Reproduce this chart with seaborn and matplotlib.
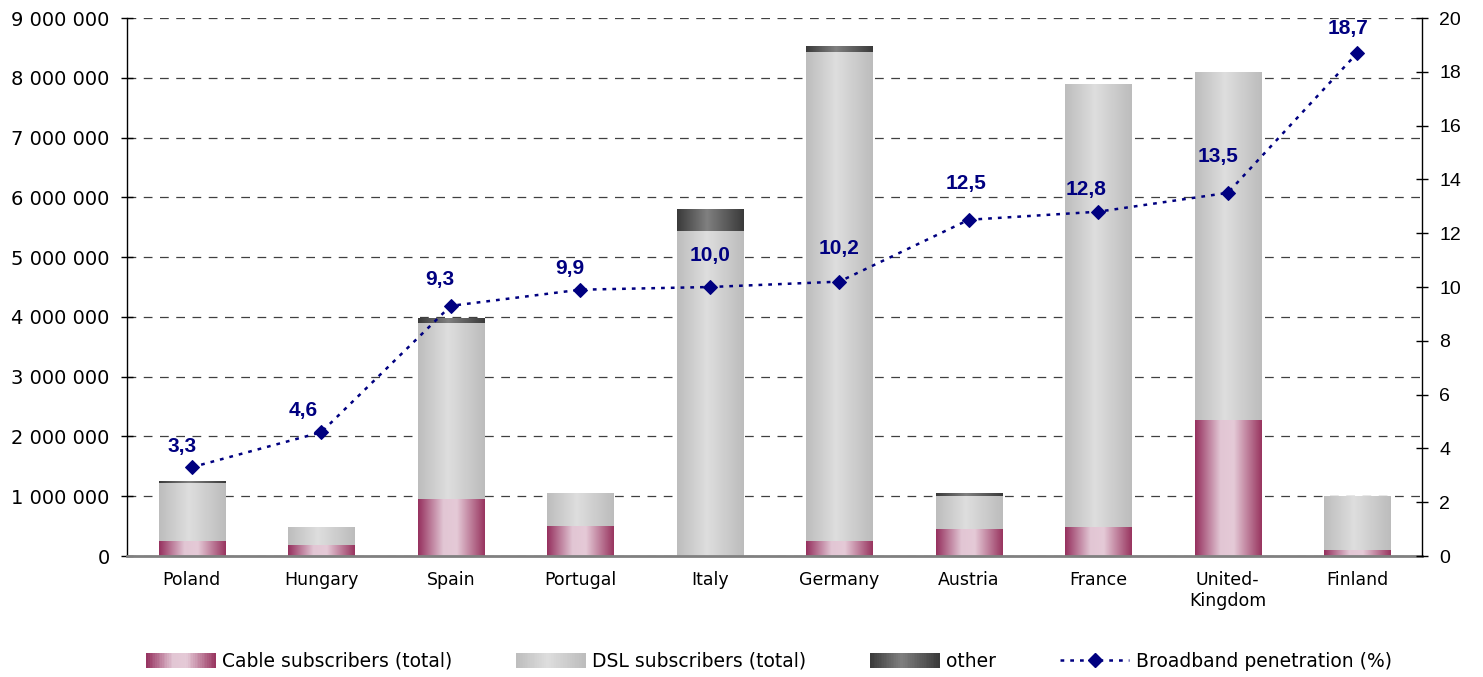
import numpy as np
import pandas as pd
import matplotlib
matplotlib.use("Agg")
import matplotlib.pyplot as plt
import seaborn as sns
from matplotlib.colors import LinearSegmentedColormap
from matplotlib.legend_handler import HandlerBase
from matplotlib.patches import Rectangle
from matplotlib.lines import Line2D
from matplotlib.ticker import FuncFormatter, MultipleLocator

# ---------------- data ----------------
countries = ['Poland', 'Hungary', 'Spain', 'Portugal', 'Italy', 'Germany',
             'Austria', 'France', 'United-\nKingdom', 'Finland']
cable = [250000, 170000, 940000, 490000, 0, 240000, 435000, 485000, 2260000, 100000]
dsl = [960000, 315000, 2945000, 550000, 5420000, 8180000, 555000, 7395000, 5820000, 890000]
other = [30000, 0, 80000, 0, 370000, 110000, 50000, 0, 0, 0]
penetration = [3.3, 4.6, 9.3, 9.9, 10.0, 10.2, 12.5, 12.8, 13.5, 18.7]
pen_labels = ['3,3', '4,6', '9,3', '9,9', '10,0', '10,2', '12,5', '12,8', '13,5', '18,7']
series_names = ['Cable subscribers (total)', 'DSL subscribers (total)', 'other',
                'Broadband penetration (%)']

# ---------------- styling ----------------
sns.set_style('white')
plt.rcParams['font.family'] = ['DejaVu Sans']
plt.rcParams['text.color'] = 'black'
plt.rcParams['xtick.color'] = 'black'
plt.rcParams['ytick.color'] = 'black'
plt.rcParams['xtick.labelcolor'] = 'black'
plt.rcParams['ytick.labelcolor'] = 'black'

cable_cmap = LinearSegmentedColormap.from_list(
    'cable', [(0, '#95305e'), (0.38, '#e2c6d4'), (0.58, '#e5cad7'), (1, '#98345f')])
dsl_cmap = LinearSegmentedColormap.from_list(
    'dsl', [(0, '#bdbdbd'), (0.45, '#dedede'), (1, '#bcbcbc')])
other_cmap = LinearSegmentedColormap.from_list(
    'other', [(0, '#3a3a3a'), (0.45, '#808080'), (1, '#3a3a3a')])
navy = '#000080'

fig = plt.figure(figsize=(14.83, 6.77), dpi=100)
ax = fig.add_axes([0.0856, 0.1787, 0.8733, 0.7947])

df = pd.DataFrame({'country': countries, 'cable': cable, 'dsl': dsl, 'other': other})
df['cable_dsl'] = df['cable'] + df['dsl']
df['total'] = df['cable_dsl'] + df['other']

layers = [('total', other_cmap, 1.1), ('cable_dsl', dsl_cmap, 1.2), ('cable', cable_cmap, 1.3)]
grad = np.linspace(0, 1, 256).reshape(1, -1)
for col, cmap, z in layers:
    n_before = len(ax.patches)
    sns.barplot(data=df, x='country', y=col, color='#cccccc', width=0.51,
                saturation=1, errorbar=None, ax=ax, zorder=z)
    for p in ax.patches[n_before:]:
        x0, y0 = p.get_x(), p.get_y()
        w, h = p.get_width(), p.get_height()
        p.set_visible(False)
        if h > 0:
            ax.imshow(grad, extent=[x0, x0 + w, y0, y0 + h], aspect='auto',
                      cmap=cmap, zorder=z, interpolation='bilinear')

ax.set_xlim(-0.5, len(countries) - 0.5)
ax.set_ylim(0, 9000000)
ax.set_aspect('auto')
ax.set_xlabel('')
ax.set_ylabel('')
ax.yaxis.set_major_locator(MultipleLocator(1000000))
ax.yaxis.set_major_formatter(FuncFormatter(lambda v, _: f"{int(round(v)):,}".replace(',', ' ')))
ax.set_axisbelow(True)
ax.yaxis.grid(True, linestyle=(0, (7, 6)), color='#404040', linewidth=0.9)
ax.xaxis.grid(False)

ax.set_xticks(range(len(countries)))
ax.set_xticklabels(countries, fontsize=12.5, color='black')
ax.set_xticks(np.arange(-0.5, len(countries), 1.0), minor=True)
ax.tick_params(axis='x', which='major', length=0, pad=11)
ax.tick_params(axis='x', which='minor', length=5, width=1, color='#808080', direction='out')
ax.tick_params(axis='y', which='major', direction='inout', length=9, width=1,
               color='black', labelcolor='black', labelsize=14, pad=8)
for lab in ax.get_yticklabels():
    lab.set_fontfamily('DejaVu Sans')

for s in ['top', 'right']:
    ax.spines[s].set_visible(False)
ax.spines['left'].set_color('black')
ax.spines['left'].set_linewidth(1)
ax.spines['bottom'].set_color('#808080')
ax.spines['bottom'].set_linewidth(2)

# ---------------- line on secondary axis ----------------
ax2 = ax.twinx()
sns.lineplot(x=np.arange(len(countries)), y=penetration, ax=ax2, color=navy,
             linestyle=(0, (1.5, 2.4)), linewidth=1.8, marker='D', markersize=7,
             markeredgecolor=navy, markerfacecolor=navy, zorder=5)
ax2.set_ylim(0, 20)
ax2.set_xlim(-0.5, len(countries) - 0.5)
ax2.yaxis.set_major_locator(MultipleLocator(2))
ax2.set_ylabel('')
ax2.tick_params(axis='y', which='major', direction='inout', length=9, width=1,
                color='black', labelcolor='black', labelsize=14, pad=8)
for lab in ax2.get_yticklabels():
    lab.set_fontfamily('Liberation Sans')
for s in ['top', 'left', 'bottom']:
    ax2.spines[s].set_visible(False)
ax2.spines['right'].set_color('black')
ax2.spines['right'].set_linewidth(1)

offsets_px = [(-10, 21), (-18, 22), (-11, 26), (-10, 21), (0, 32), (0, 33),
              (-3, 36), (-12, 22), (-10, 36), (-9, 24)]
for i, (v, t) in enumerate(zip(penetration, pen_labels)):
    dx, dy = offsets_px[i]
    ax2.annotate(t, (i, v), xytext=(dx * 0.72, dy * 0.72), textcoords='offset points',
                 ha='center', va='center', fontsize=15, fontweight='bold',
                 color=navy, family='Liberation Sans')


# ---------------- legend ----------------
class GradHandler(HandlerBase):
    def __init__(self, cmap, n=40):
        super().__init__()
        self.cmap = cmap
        self.n = n

    def create_artists(self, legend, orig_handle, xdescent, ydescent, width,
                       height, fontsize, trans):
        arts = []
        for i in range(self.n):
            r = Rectangle((-xdescent + width * i / self.n, -ydescent),
                          width / self.n * 1.08, height,
                          facecolor=self.cmap((i + 0.5) / self.n),
                          edgecolor='none', transform=trans)
            arts.append(r)
        return arts


h_cable = Rectangle((0, 0), 1, 1)
h_dsl = Rectangle((0, 0), 1, 1)
h_other = Rectangle((0, 0), 1, 1)
h_line = Line2D([], [], color=navy, linestyle=(0, (1.5, 2.4)), linewidth=1.8,
                marker='D', markersize=7, markerfacecolor=navy, markeredgecolor=navy)
leg = fig.legend([h_cable, h_dsl, h_other, h_line], series_names,
                 handler_map={h_cable: GradHandler(cable_cmap), h_dsl: GradHandler(dsl_cmap),
                              h_other: GradHandler(other_cmap)},
                 loc='center', bbox_to_anchor=(0.5186, 0.023), ncol=4, frameon=False,
                 fontsize=13.5, handlelength=3.7, handleheight=0.8, handletextpad=0.35,
                 columnspacing=3.4, numpoints=1)
for t in leg.get_texts():
    t.set_color('black')

fig.savefig('out.png', dpi=100, facecolor='white')
